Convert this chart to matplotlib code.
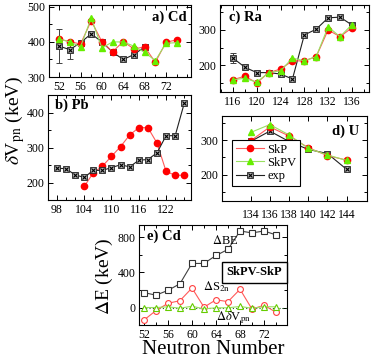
import numpy as np
import matplotlib
matplotlib.use('Agg')
import matplotlib.pyplot as plt
from matplotlib.ticker import MultipleLocator, FixedLocator

plt.rcParams['font.family'] = ['Liberation Serif', 'DejaVu Serif']
plt.rcParams['mathtext.fontset'] = 'stix'

# a) Cd
cd_n = [52, 54, 56, 58, 60, 62, 64, 66, 68, 70, 72, 74]
cd_skp = [408, 401, 394, 460, 401, 372, 401, 380, 386, 342, 399, 406]
cd_skpv = [408, 400, 386, 468, 383, 400, 400, 388, 370, 347, 396, 398]
cd_exp_n = [52, 54, 56, 58, 60, 62, 64, 66, 68]
cd_exp = [388, 378, 398, 423, 400, 371, 350, 364, 386]
cd_exp_err = [48, 28, 0, 0, 0, 0, 0, 0, 0]
cd_ticks = [52, 56, 60, 64, 68, 72]

# b) Pb
pb_exp_n = [98, 100, 102, 104, 106, 108, 110, 112, 114, 116, 118, 120, 122, 124, 126]
pb_exp = [241, 240, 222, 215, 235, 235, 243, 251, 245, 264, 266, 285, 334, 334, 427]
pb_skp_n = [104, 106, 108, 110, 112, 114, 116, 118, 120, 122, 124, 126]
pb_skp = [189, 228, 247, 275, 303, 336, 357, 357, 313, 232, 221, 221]
pb_ticks = [98, 104, 110, 116, 122]

# c) Ra
ra_n = [116, 118, 120, 122, 124, 126, 128, 130, 132, 134, 136]
ra_skp = [160, 170, 151, 180, 190, 213, 213, 225, 300, 281, 306]
ra_skpv = [160, 164, 153, 180, 185, 221, 213, 225, 309, 281, 315]
ra_exp = [221, 195, 180, 180, 176, 162, 286, 302, 334, 336, 314]
ra_exp_err = [14, 0, 0, 0, 0, 0, 0, 0, 0, 0, 0]
ra_ticks = [116, 120, 124, 128, 132, 136]

# d) U
u_n = [134, 136, 138, 140, 142, 144]
u_skp = [298, 338, 312, 278, 255, 242]
u_skpv = [322, 345, 315, 276, 257, 241]
u_exp = [296, 326, 296, 273, 261, 215]
u_ticks = [134, 136, 138, 140, 142, 144]

# e) Cd differences SkPV-SkP
e_n = [52, 54, 56, 58, 60, 62, 64, 66, 68, 70, 72, 74]
d_be = [170, 141, 195, 271, 502, 502, 593, 662, 872, 850, 872, 827]
d_s2n = [-143, -35, 48, 78, 222, 4, 88, 67, 208, -19, 27, -55]
d_dvpn = [0, 0, 8, -8, 15, -15, -3, -3, 12, -8, 10, 8]
e_ticks = [52, 56, 60, 64, 68, 72]

RED = '#ff0000'
REDL = '#ff5a5a'
GRN = '#66ee00'
GRNL = '#99e060'

fig = plt.figure(figsize=(3.74, 3.6), dpi=100)


def style(ax, xticks, xmin, ymaj, ymin):
    ax.xaxis.set_major_locator(FixedLocator(xticks))
    ax.yaxis.set_major_locator(MultipleLocator(ymaj))
    if xmin:
        ax.xaxis.set_minor_locator(MultipleLocator(xmin))
    if ymin:
        ax.yaxis.set_minor_locator(MultipleLocator(ymin))
    ax.tick_params(which='both', direction='in', top=True, right=True,
                   labelsize=8.5, width=0.7, pad=2.5)
    ax.tick_params(which='major', length=3.5)
    ax.tick_params(which='minor', length=2)
    for s in ax.spines.values():
        s.set_linewidth(0.8)


def plot_skp(ax, x, y):
    return ax.plot(x, y, '-', color=REDL, lw=0.8, marker='o', ms=4.5,
                   mfc=RED, mec=RED, label='SkP')[0]


def plot_skpv(ax, x, y):
    return ax.plot(x, y, '-', color=GRNL, lw=0.8, marker='^', ms=5,
                   mfc=GRN, mec=GRN, label='SkPV')[0]


def plot_exp(ax, x, y, err=None):
    if err is not None:
        ax.errorbar(x, y, yerr=err, fmt='none', ecolor='#404040',
                    elinewidth=0.7, capsize=2.5, capthick=0.7)
    h1 = ax.plot(x, y, '-', color='#202020', lw=0.8, marker='s', ms=3.8,
                 mfc='#b0b0b0', mec='#202020', mew=0.6)[0]
    h2 = ax.plot(x, y, 'x', color='k', ms=2.8, mew=0.8)[0]
    return (h1, h2)


# panel a
ax = fig.add_axes([0.131, 0.786, 0.380, 0.200])
plot_exp(ax, cd_exp_n, cd_exp, cd_exp_err)
plot_skp(ax, cd_n, cd_skp)
plot_skpv(ax, cd_n, cd_skpv)
ax.set_xlim(50.1, 76.7)
ax.set_ylim(300, 505)
style(ax, cd_ticks, 2, 100, 50)
ax.text(0.97, 0.83, 'a) Cd', transform=ax.transAxes, ha='right', va='center',
        fontsize=10.5, fontweight='bold')

# panel b
ax = fig.add_axes([0.129, 0.444, 0.382, 0.292])
plot_skp(ax, pb_skp_n, pb_skp)
plot_exp(ax, pb_exp_n, pb_exp)
ax.set_xlim(96.1, 127.5)
ax.set_ylim(150, 450)
style(ax, pb_ticks, 2, 100, 50)
ax.text(0.05, 0.9, 'b) Pb', transform=ax.transAxes, ha='left', va='center',
        fontsize=10.5, fontweight='bold')

# panel c
ax = fig.add_axes([0.588, 0.744, 0.399, 0.242])
plot_exp(ax, ra_n, ra_exp, ra_exp_err)
plot_skp(ax, ra_n, ra_skp)
plot_skpv(ax, ra_n, ra_skpv)
ax.set_xlim(113.8, 138.9)
ax.set_ylim(125, 370)
style(ax, ra_ticks, 2, 100, 50)
ax.text(0.06, 0.86, 'c) Ra', transform=ax.transAxes, ha='left', va='center',
        fontsize=10.5, fontweight='bold')

# panel d
ax = fig.add_axes([0.593, 0.443, 0.388, 0.235])
he = plot_exp(ax, u_n, u_exp)
hp = plot_skp(ax, u_n, u_skp)
hv = plot_skpv(ax, u_n, u_skpv)
ax.set_xlim(131.0, 146.1)
ax.set_ylim(125, 370)
style(ax, u_ticks, None, 100, 50)
ax.tick_params(axis='x', pad=6)
ax.text(0.95, 0.82, 'd) U', transform=ax.transAxes, ha='right', va='center',
        fontsize=10.5, fontweight='bold')
leg = ax.legend([hp, hv, he], ['SkP', 'SkPV', 'exp'], loc='lower left',
                bbox_to_anchor=(0.03, 0.1), fontsize=9, handlelength=2.2,
                handletextpad=0.3, labelspacing=0.1, borderpad=0.3,
                fancybox=False, framealpha=1, edgecolor='k')
leg.get_frame().set_linewidth(0.8)

# panel e
ax = fig.add_axes([0.372, 0.097, 0.395, 0.278])
ax.axhline(0, color='#206020', lw=0.8, ls=(0, (1, 2)))
ax.plot(e_n, d_be, '-', color='#404040', lw=0.8, marker='s', ms=3.8,
        mfc='white', mec='#303030', mew=0.8)
ax.plot(e_n, d_s2n, '-', color=REDL, lw=0.8, marker='o', ms=4.2,
        mfc='white', mec='#ff4040', mew=0.8)
ax.plot(e_n, d_dvpn, '-', color=GRNL, lw=0.8, marker='^', ms=4.2,
        mfc='white', mec='#66cc00', mew=0.8)
ax.set_xlim(51.2, 75.8)
ax.set_ylim(-200, 940)
style(ax, e_ticks, 2, 400, 200)
ax.text(0.05, 0.89, 'e) Cd', transform=ax.transAxes, ha='left', va='center',
        fontsize=10.5, fontweight='bold')
ax.text(63.3, 760, r'$\Delta$BE', fontsize=9, ha='left', va='center')
ax.text(61.8, 235, r'$\Delta$S$_{\mathrm{2n}}$', fontsize=9, ha='left', va='center')
ax.text(64.0, -110, r'$\Delta\delta$V$_{\mathrm{pn}}$', fontsize=9, ha='left',
        va='center')
ax.text(70.4, 400, 'SkPV-SkP', fontsize=9, fontweight='bold', ha='center',
        va='center', bbox=dict(boxstyle='square,pad=0.35', fc='white',
                               ec='k', lw=1.0))

fig.text(0.04, 0.665, r'$\delta$V$_{\mathrm{pn}}$ (keV)', rotation=90,
         ha='center', va='center', fontsize=14)
fig.text(0.28, 0.232, r'$\Delta$E (keV)', rotation=90, ha='center',
         va='center', fontsize=14)
fig.text(0.57, 0.028, 'Neutron Number', ha='center', va='center', fontsize=15)

fig.savefig('out.png', dpi=100)
